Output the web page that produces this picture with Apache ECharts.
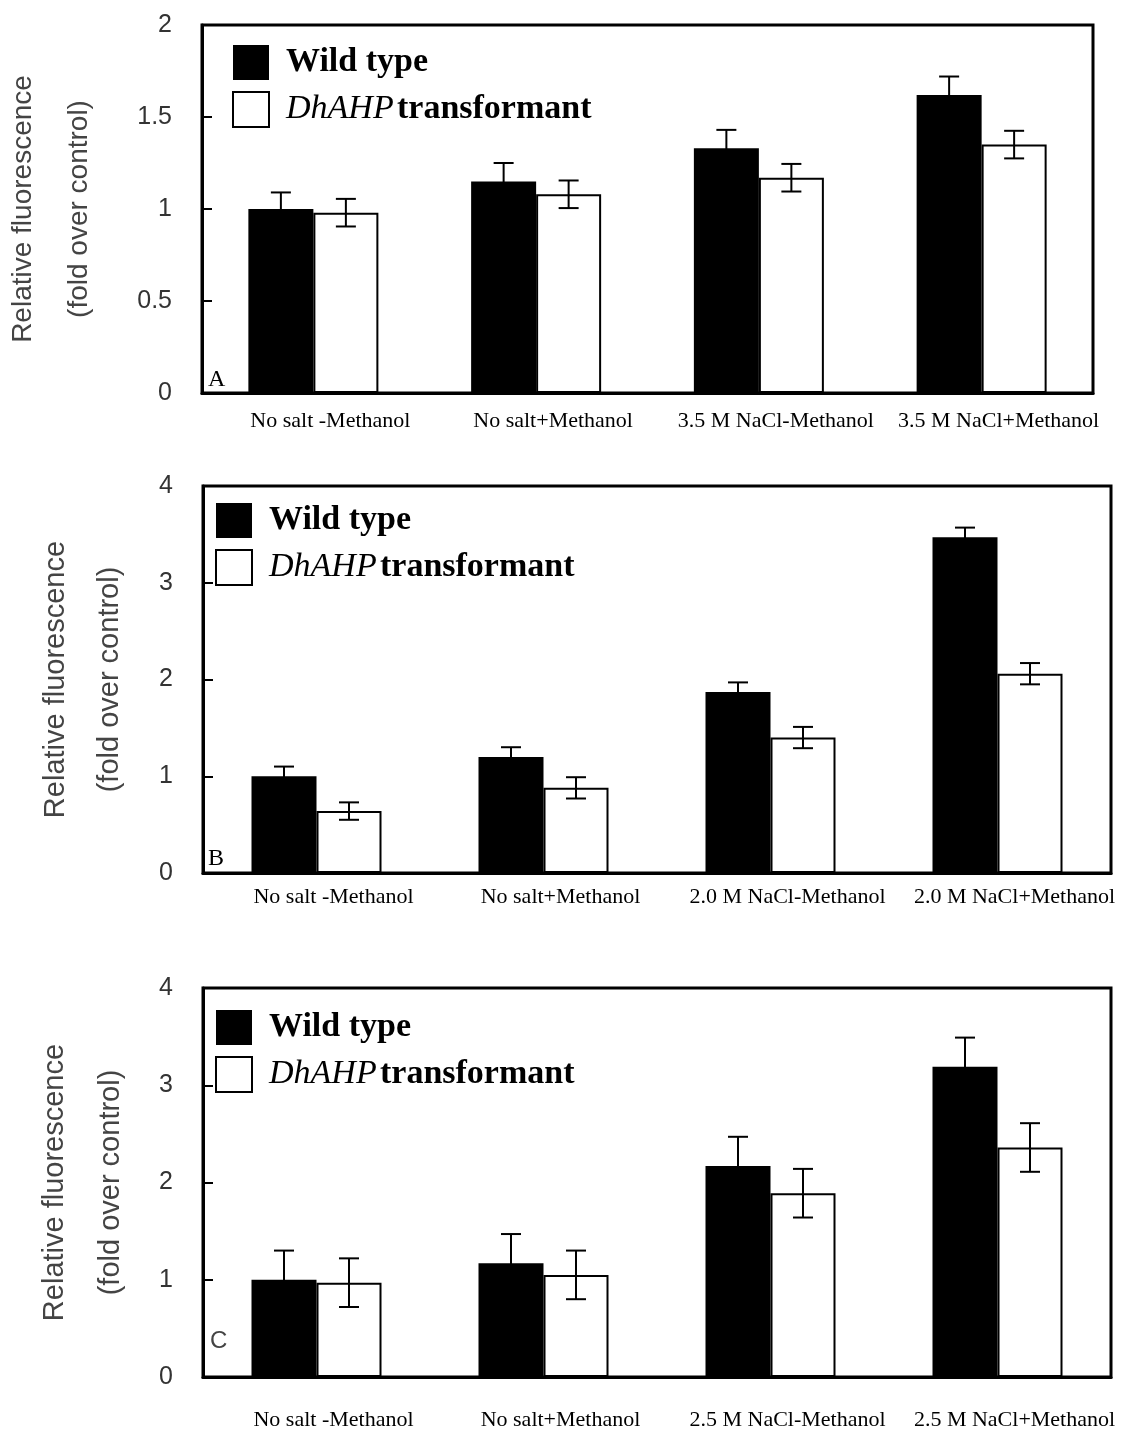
<!DOCTYPE html>
<html>
<head>
<meta charset="utf-8">
<script src="https://cdn.jsdelivr.net/npm/echarts@6/dist/echarts.min.js"></script>
<style>
  html, body { margin: 0; padding: 0; background: #fff; }
  #chart { width: 1130px; height: 1431px; }
</style>
</head>
<body>
<div id="chart"></div>
<script>
// panel A — 3.5 M NaCl
const catsA = ['No salt -Methanol', 'No salt+Methanol', '3.5 M NaCl-Methanol', '3.5 M NaCl+Methanol']
const wildA = [1.00, 1.15, 1.33, 1.62]
const wildErrA = [0.09, 0.10, 0.10, 0.10]
const transA = [0.98, 1.08, 1.17, 1.35]
const transErrA = [0.075, 0.075, 0.075, 0.075]
const yTicksA = [0, 0.5, 1, 1.5, 2]

// panel B — 2.0 M NaCl
const catsB = ['No salt -Methanol', 'No salt+Methanol', '2.0 M NaCl-Methanol', '2.0 M NaCl+Methanol']
const wildB = [1.00, 1.20, 1.87, 3.47]
const wildErrB = [0.10, 0.10, 0.10, 0.10]
const transB = [0.64, 0.88, 1.40, 2.06]
const transErrB = [0.09, 0.11, 0.11, 0.11]
const yTicksB = [0, 1, 2, 3, 4]

// panel C — 2.5 M NaCl
const catsC = ['No salt -Methanol', 'No salt+Methanol', '2.5 M NaCl-Methanol', '2.5 M NaCl+Methanol']
const wildC = [1.00, 1.17, 2.17, 3.19]
const wildErrC = [0.30, 0.30, 0.30, 0.30]
const transC = [0.97, 1.05, 1.89, 2.36]
const transErrC = [0.25, 0.25, 0.25, 0.25]
const yTicksC = [0, 1, 2, 3, 4]

const WT = 'Wild type'
const TR = 'DhAHP transformant'
const BAR_W = 65
const SANS = 'Liberation Sans, Arial, sans-serif'
const SERIF = 'Liberation Serif, Times New Roman, serif'

const panels = [
  { cats: catsA, wild: wildA, wildErr: wildErrA, trans: transA, transErr: transErrA, ticks: yTicksA,
    grid: { left: 202, right: 37, top: 25, height: 368 }, legendPos: { left: 232, top: 45 },
    nameGap: 95, nameSize: 28, lineH: 56, labelMargin: 17, tag: 'A', tagPos: { left: 208, top: 368 }, tagFont: SERIF },
  { cats: catsB, wild: wildB, wildErr: wildErrB, trans: transB, transErr: transErrB, ticks: yTicksB,
    grid: { left: 203, right: 19, top: 486, height: 387 }, legendPos: { left: 215, top: 503 },
    nameGap: 66, nameSize: 29, lineH: 54, labelMargin: 13, tag: 'B', tagPos: { left: 208, top: 847 }, tagFont: SERIF },
  { cats: catsC, wild: wildC, wildErr: wildErrC, trans: transC, transErr: transErrC, ticks: yTicksC,
    grid: { left: 203, right: 19, top: 988, height: 389 }, legendPos: { left: 215, top: 1010 },
    nameGap: 64, nameSize: 29, lineH: 56, labelMargin: 32, tag: 'C', tagPos: { left: 210, top: 1329 }, tagFont: SANS },
]

const errorBars = (idx, vals, errs, side) => ({
  type: 'custom', xAxisIndex: idx, yAxisIndex: idx, z: 10, silent: true,
  data: vals.map((v, i) => [i, v - errs[i], v + errs[i]]),
  renderItem: (params, api) => {
    const lo = api.coord([api.value(0), api.value(1)])
    const hi = api.coord([api.value(0), api.value(2)])
    const x = lo[0] + side * BAR_W / 2
    const cap = 10
    const st = { stroke: '#000', lineWidth: 2 }
    return {
      type: 'group',
      children: [
        { type: 'line', shape: { x1: x, y1: hi[1], x2: x, y2: lo[1] }, style: st },
        { type: 'line', shape: { x1: x - cap, y1: hi[1], x2: x + cap, y2: hi[1] }, style: st },
        { type: 'line', shape: { x1: x - cap, y1: lo[1], x2: x + cap, y2: lo[1] }, style: st },
      ],
    }
  },
})

const option = {
  backgroundColor: '#fff',
  animation: false,
  title: panels.map(p => ({
    text: p.tag, left: p.tagPos.left, top: p.tagPos.top, padding: 0,
    textStyle: { fontFamily: p.tagFont, fontSize: 24, fontWeight: 'normal', color: p.tagFont === SANS ? '#444' : '#000' },
  })),
  legend: panels.map(p => ({
    data: [WT, TR], orient: 'vertical', left: p.legendPos.left, top: p.legendPos.top,
    itemWidth: 36, itemHeight: 35, itemGap: 11, padding: 0, selectedMode: false,
    icon: 'rect',
    formatter: name => name === WT ? '{b|Wild type}' : '{i|DhAHP} {b|transformant}',
    textStyle: {
      padding: [0, 0, 0, 12],
      rich: {
        b: { fontFamily: SERIF, fontSize: 34, fontWeight: 'bold', color: '#000' },
        i: { fontFamily: SERIF, fontSize: 34, fontStyle: 'italic', color: '#000' },
      },
    },
  })),
  grid: panels.map(p => ({ ...p.grid, show: true, borderColor: '#000', borderWidth: 3, containLabel: false, outerBoundsMode: 'none' })),
  xAxis: panels.map((p, i) => ({
    type: 'category', gridIndex: i, data: p.cats,
    axisLine: { lineStyle: { color: '#000', width: 3 } },
    axisTick: { show: false },
    axisLabel: { fontFamily: SERIF, fontSize: 22, color: '#000', margin: p.labelMargin, padding: [0, 0, 0, 34], interval: 0 },
  })),
  yAxis: panels.map((p, i) => ({
    type: 'value', gridIndex: i,
    min: p.ticks[0], max: p.ticks[p.ticks.length - 1], interval: p.ticks[1] - p.ticks[0],
    name: 'Relative fluorescence\n(fold over control)', nameLocation: 'middle', nameRotate: 90, nameGap: p.nameGap,
    nameTextStyle: { fontFamily: SANS, fontSize: p.nameSize, color: '#444', lineHeight: p.lineH },
    axisLine: { show: true, lineStyle: { color: '#000', width: 3 } },
    axisTick: { show: true, inside: true, length: 10, lineStyle: { color: '#000', width: 2 } },
    splitLine: { show: false },
    axisLabel: { fontFamily: SANS, fontSize: 25, color: '#333', margin: 30 },
  })),
  series: panels.flatMap((p, i) => [
    { name: WT, type: 'bar', xAxisIndex: i, yAxisIndex: i, data: p.wild, barWidth: BAR_W, barGap: '0%',
      itemStyle: { color: '#000' } },
    { name: TR, type: 'bar', xAxisIndex: i, yAxisIndex: i, data: p.trans, barWidth: BAR_W, barGap: '0%',
      itemStyle: { color: '#fff', borderColor: '#000', borderWidth: 2 } },
    errorBars(i, p.wild, p.wildErr, -1),
    errorBars(i, p.trans, p.transErr, 1),
  ]),
}

const chart = echarts.init(document.getElementById('chart'), null, { renderer: 'canvas' })
chart.setOption(option)
</script>
</body>
</html>
